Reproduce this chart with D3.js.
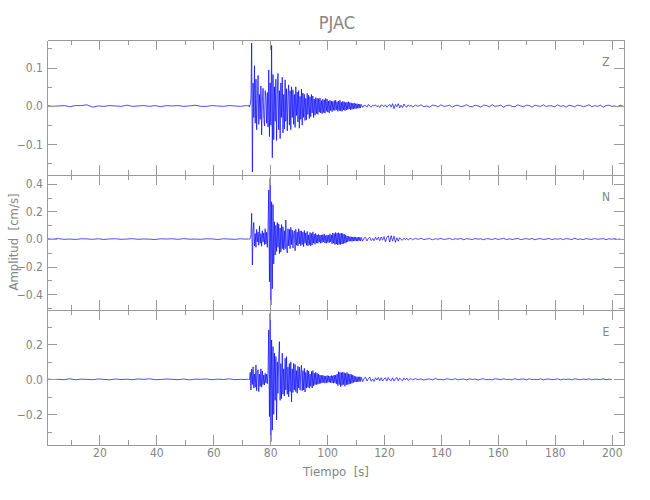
<!DOCTYPE html>
<html><head><meta charset="utf-8">
<script src="https://cdn.jsdelivr.net/npm/d3@7"></script>
<style>
body{margin:0;background:#fff}
svg text{font-family:"Liberation Sans Narrow","DejaVu Sans Condensed","Liberation Sans",sans-serif;fill:#858585}
.ax path,.ax line{stroke:#9a9a9a;stroke-width:1;shape-rendering:crispEdges}
</style>
</head><body><svg id="c" width="650" height="500"></svg>
<script>
// ---------------- data ----------------
const stationName = "PJAC";
const componentNames = ["Z", "N", "E"];
const xLabel = "Tiempo  [s]";
const yLabel = "Amplitud  [cm/s]";
const timeRange = [1.6, 204.3];
const xMajorTicks = [20, 40, 60, 80, 100, 120, 140, 160, 180, 200];
const xMinorTicks = [10, 30, 50, 70, 90, 110, 130, 150, 170, 190];

const zRange = [-0.180, 0.172];
const nRange = [-0.514, 0.464];
const eRange = [-0.375, 0.396];
const zMajorTicks = [-0.1, 0.0, 0.1];
const zMinorTicks = [-0.15, -0.05, 0.05, 0.15];
const nMajorTicks = [-0.4, -0.2, 0.0, 0.2, 0.4];
const nMinorTicks = [-0.5, -0.3, -0.1, 0.1, 0.3];
const eMajorTicks = [-0.2, 0.0, 0.2];
const eMinorTicks = [-0.3, -0.1, 0.1, 0.3];

// sample times of the read-off segments (s)
const preStart = 1.6, preStep = 2;
const mainStart = 72.0, mainStep = 0.25;
const coda1Start = 112.5, coda1Step = 0.5;
const coda2Start = 131.0, coda2Step = 1;

// ---- Z component (cm/s) ----
const zPre = [0.001,-0.001,0.000,0.001,-0.002,0.001,0.001,0.003,-0.003,0.000,
  -0.001,0.001,0.000,-0.001,0.002,-0.001,0.000,0.001,-0.001,0.001,
  -0.002,0.001,0.000,0.001,-0.001,0.000,0.002,-0.001,-0.001,0.001,
  0.000,-0.001,0.001,0.000,-0.001,0.001];
const zMain = [
  0.001,-0.001,0.002,-0.002,0.003,0.020,0.164,-0.172,0.060,-0.030,0.105,-0.045,0.070,-0.062,0.020,0.080,-0.048,0.030,-0.035,0.052,
  -0.075,0.010,0.046,-0.030,-0.052,0.040,0.020,-0.045,0.035,-0.055,0.094,-0.080,0.060,-0.050,0.158,-0.135,0.082,-0.088,0.050,-0.040,
  0.070,-0.090,0.030,0.085,-0.062,0.040,-0.085,0.060,-0.030,0.075,-0.070,0.030,-0.060,0.068,-0.040,0.045,-0.065,0.025,0.055,-0.050,
  0.040,-0.062,0.050,-0.030,0.042,-0.048,0.030,-0.056,0.050,-0.025,0.036,-0.042,0.040,-0.058,0.025,-0.035,0.044,-0.050,0.034,-0.030,
  0.030,-0.038,0.020,-0.036,0.033,-0.022,0.028,-0.033,0.024,-0.028,0.030,-0.018,0.026,-0.030,0.018,-0.024,0.022,-0.020,0.020,-0.022,
  0.019,-0.016,0.021,-0.018,0.014,-0.020,0.018,-0.017,0.016,-0.019,0.020,-0.014,0.018,-0.016,0.013,-0.018,0.015,-0.012,0.013,-0.015,
  0.012,-0.011,0.014,-0.012,0.015,-0.010,0.011,-0.014,0.013,-0.012,0.015,-0.013,0.010,-0.014,0.012,-0.010,0.011,-0.012,0.009,-0.011,
  0.010,-0.009,0.011,-0.008,0.009,-0.010,0.008,-0.009,0.007,-0.008,0.008,-0.007,0.006,-0.007,0.006,-0.006,0.005,-0.006,0.005,-0.005,
  0.004];
const zCoda1 = [-0.004,0.002,0.001,-0.003,0.004,-0.001,-0.003,0.002,0.000,0.003,
  -0.002,0.001,-0.004,0.003,0.001,-0.002,0.003,-0.003,0.000,0.004,
  -0.003,0.006,-0.007,0.004,-0.002,0.006,-0.005,0.002,-0.004,0.005,
  -0.001,-0.003,0.003,-0.001,0.002,-0.003];
const zCoda2 = [0.002,-0.001,0.003,-0.002,0.000,-0.003,0.002,0.001,-0.002,0.003,
  -0.001,0.000,0.002,-0.003,0.001,0.002,-0.002,0.000,0.003,-0.001,
  -0.002,0.002,0.000,-0.003,0.002,0.001,-0.002,0.003,-0.001,0.000,
  0.002,-0.003,0.001,0.002,-0.001,-0.002,0.003,0.000,-0.002,0.002,
  0.001,-0.003,0.002,0.000,-0.001,0.003,-0.002,0.001,0.000,-0.002,
  0.003,-0.001,0.001,-0.003,0.002,0.000,-0.002,0.002,0.001,-0.002,
  0.000,0.003,-0.002,0.001,-0.001,0.002,-0.003,0.001,0.002,-0.001,
  0.000,-0.002,0.002,-0.001];

// ---- N component ----
const nPre = [0.002,-0.001,0.003,-0.002,0.000,-0.003,0.002,0.001,-0.002,0.002,
  -0.003,0.001,0.002,-0.002,0.000,0.003,-0.002,0.001,-0.001,-0.003,
  0.002,0.000,0.002,-0.002,0.003,-0.001,0.000,-0.002,0.002,0.001,
  -0.003,0.002,0.000,-0.002,0.002,-0.001];
const nMain = [
  0.002,-0.003,0.003,-0.002,0.008,0.030,0.186,-0.188,0.060,0.120,-0.050,0.040,-0.060,0.070,-0.020,0.050,-0.045,0.095,-0.030,0.040,
  -0.052,0.060,-0.020,0.045,-0.040,0.075,-0.035,0.050,-0.060,0.080,0.355,-0.310,0.440,-0.478,0.270,-0.360,0.250,-0.180,0.125,-0.116,
  0.100,-0.090,0.120,-0.060,0.110,-0.105,0.080,-0.095,0.105,-0.070,0.090,-0.080,0.060,-0.070,0.138,-0.060,-0.100,0.075,-0.050,0.070,
  -0.070,0.085,-0.040,0.065,-0.065,0.040,0.060,-0.085,0.070,-0.045,0.050,-0.050,0.075,-0.035,0.060,-0.048,0.058,-0.040,0.050,-0.055,
  0.062,-0.030,0.045,-0.045,0.055,-0.050,0.030,-0.042,0.048,-0.050,0.040,-0.042,0.052,-0.030,0.035,-0.038,0.040,-0.028,0.030,-0.031,
  0.034,-0.022,0.028,-0.030,0.030,-0.026,0.032,-0.020,0.036,-0.028,0.025,-0.031,0.030,-0.024,0.028,-0.026,0.038,-0.022,0.030,-0.034,
  0.044,-0.030,0.040,-0.040,0.048,-0.036,0.042,-0.043,0.046,-0.038,0.040,-0.040,0.044,-0.036,0.040,-0.033,0.036,-0.030,0.030,-0.025,
  0.022,-0.020,0.020,-0.016,0.018,-0.015,0.016,-0.018,0.015,-0.014,0.016,-0.013,0.015,-0.014,0.012,-0.015,0.014,-0.012,0.013,-0.014,
  0.012];
const nCoda1 = [-0.015,0.008,0.012,-0.014,0.005,0.013,-0.011,0.004,-0.012,0.013,
  -0.006,0.014,-0.012,0.015,-0.008,0.018,-0.020,0.012,0.024,-0.022,
  0.025,-0.015,0.021,-0.024,0.010,-0.015,0.010,-0.004,-0.008,0.007,
  -0.003,0.006,-0.007,0.002,0.005,-0.005];
const nCoda2 = [0.004,-0.002,0.005,-0.004,0.001,0.003,-0.005,0.002,-0.001,0.004,
  -0.003,0.000,0.005,-0.004,0.002,-0.001,0.004,-0.005,0.003,0.000,
  -0.004,0.004,-0.001,0.002,-0.005,0.003,0.001,-0.003,0.004,-0.002,
  0.000,0.005,-0.004,0.002,-0.003,0.001,0.004,-0.004,0.000,0.003,
  -0.002,0.004,-0.005,0.001,0.003,-0.003,0.000,0.004,-0.004,0.002,
  -0.001,0.003,-0.004,0.004,0.000,-0.003,0.005,-0.002,0.001,-0.004,
  0.003,0.000,-0.003,0.004,-0.002,0.001,0.003,-0.004,0.002,-0.001,
  0.003,-0.003,0.001];

// ---- E component ----
const ePre = [0.002,-0.001,0.000,-0.002,0.003,-0.002,0.001,0.000,-0.002,0.002,
  0.000,-0.003,0.002,-0.001,0.001,-0.002,0.002,0.000,0.003,-0.002,
  -0.001,0.002,0.000,-0.002,0.002,-0.003,0.001,0.000,0.002,-0.002,
  0.001,-0.001,0.003,-0.002,0.000,-0.001];
const eMain = [
  0.001,-0.002,0.002,-0.001,0.040,-0.061,0.058,-0.030,0.072,-0.050,0.030,-0.045,0.082,-0.065,0.040,0.055,-0.070,0.030,-0.040,0.060,
  -0.045,0.048,-0.030,0.025,-0.032,0.034,-0.020,0.030,-0.025,0.040,0.282,-0.213,0.377,-0.356,0.225,-0.290,0.187,-0.200,0.150,-0.120,
  0.130,-0.232,0.100,-0.080,0.120,0.215,-0.120,0.090,-0.110,0.149,-0.085,0.060,-0.095,0.120,-0.060,0.130,-0.085,0.070,-0.100,0.090,
  -0.070,0.100,-0.128,0.060,-0.075,0.091,-0.060,0.085,-0.070,0.050,-0.080,0.075,-0.050,0.070,-0.062,0.040,0.080,-0.065,0.050,-0.060,
  0.063,-0.072,0.040,-0.050,0.053,-0.045,0.048,-0.051,0.030,-0.040,0.045,-0.050,0.050,-0.038,0.035,-0.030,0.040,-0.030,0.035,-0.028,
  0.030,-0.025,0.025,-0.023,0.022,-0.020,0.024,-0.018,0.020,-0.022,0.018,-0.020,0.022,-0.018,0.020,-0.016,0.018,-0.020,0.022,-0.019,
  0.020,-0.022,0.025,-0.020,0.024,-0.026,0.030,-0.036,0.044,-0.030,0.040,-0.042,0.038,-0.035,0.042,-0.030,0.038,-0.040,0.035,-0.032,
  0.040,-0.030,0.032,-0.028,0.030,-0.025,0.028,-0.022,0.025,-0.018,0.020,-0.016,0.016,-0.015,0.015,-0.014,0.014,-0.013,0.015,-0.012,
  0.013];
const eCoda1 = [-0.014,0.006,0.012,-0.010,0.004,0.013,-0.011,0.002,-0.012,0.009,
  -0.004,0.011,-0.008,0.009,-0.010,0.003,0.008,-0.009,0.010,-0.004,
  -0.008,0.009,-0.010,0.004,0.010,-0.008,0.007,-0.002,-0.009,0.008,
  -0.003,0.007,-0.006,0.001,0.005,-0.004];
const eCoda2 = [0.004,-0.002,0.003,-0.004,0.001,0.002,-0.003,0.004,-0.001,0.000,
  -0.003,0.003,0.001,-0.002,0.004,-0.003,0.000,0.002,-0.003,0.003,
  -0.001,0.002,-0.004,0.001,0.003,-0.002,0.000,-0.003,0.003,0.001,
  -0.002,0.003,-0.001,0.000,-0.003,0.004,-0.002,0.001,0.002,-0.003,
  0.003,-0.001,0.000,-0.002,0.003,-0.003,0.001,0.002,-0.002,0.000,
  0.003,-0.003,0.001,-0.001,0.002,-0.003,0.003,0.000,-0.002,0.002,
  -0.001,0.003,-0.003,0.001,0.000,-0.002,0.003,-0.002,0.001,-0.001];

// ---------------- drawing ----------------
const svg = d3.select("#c");
const plotLeft = 47, plotRight = 624, panelTop = 40, panelH = 135;
const x = d3.scaleLinear().domain(timeRange).range([plotLeft, plotRight]);

const comps = [
  {name: componentNames[0], range: zRange, major: zMajorTicks, minor: zMinorTicks, segs: [zPre, zMain, zCoda1, zCoda2]},
  {name: componentNames[1], range: nRange, major: nMajorTicks, minor: nMinorTicks, segs: [nPre, nMain, nCoda1, nCoda2]},
  {name: componentNames[2], range: eRange, major: eMajorTicks, minor: eMinorTicks, segs: [ePre, eMain, eCoda1, eCoda2]}
];
const segTiming = [[preStart, preStep], [mainStart, mainStep], [coda1Start, coda1Step], [coda2Start, coda2Step]];

const fmt = d3.format(".1f");

comps.forEach((c, i) => {
  const top = panelTop + i * panelH, bottom = top + panelH;
  const y = d3.scaleLinear().domain(c.range).range([bottom, top]);

  const pts = [];
  c.segs.forEach((vals, s) => {
    const [t0, dt] = segTiming[s];
    vals.forEach((v, k) => pts.push([t0 + k * dt, v]));
  });

  const clipId = "clip" + i;
  svg.append("clipPath").attr("id", clipId).append("rect")
    .attr("x", plotLeft).attr("y", top).attr("width", plotRight - plotLeft).attr("height", panelH);

  svg.append("path").datum(pts)
    .attr("clip-path", `url(#${clipId})`)
    .attr("fill", "none").attr("stroke", "#0000ff").attr("stroke-width", 0.7)
    .attr("d", d3.line().x(d => x(d[0])).y(d => y(d[1])));

  // left axis
  svg.append("g").attr("class", "ax").attr("transform", `translate(${plotLeft},0)`)
    .call(d3.axisLeft(y).tickValues(c.major).tickFormat(fmt).tickSizeInner(-10).tickSizeOuter(0).tickPadding(4))
    .call(g => g.selectAll("text").attr("font-size", 12));
  svg.append("g").attr("class", "ax").attr("transform", `translate(${plotLeft},0)`)
    .call(d3.axisLeft(y).tickValues(c.minor).tickFormat("").tickSizeInner(-5).tickSizeOuter(0));
  // right axis
  svg.append("g").attr("class", "ax").attr("transform", `translate(${plotRight},0)`)
    .call(d3.axisRight(y).tickValues(c.major).tickFormat("").tickSizeInner(-10).tickSizeOuter(0));
  svg.append("g").attr("class", "ax").attr("transform", `translate(${plotRight},0)`)
    .call(d3.axisRight(y).tickValues(c.minor).tickFormat("").tickSizeInner(-5).tickSizeOuter(0));
  // top axis
  svg.append("g").attr("class", "ax").attr("transform", `translate(0,${top})`)
    .call(d3.axisTop(x).tickValues(xMajorTicks).tickFormat("").tickSizeInner(-10).tickSizeOuter(0));
  svg.append("g").attr("class", "ax").attr("transform", `translate(0,${top})`)
    .call(d3.axisTop(x).tickValues(xMinorTicks).tickFormat("").tickSizeInner(-5).tickSizeOuter(0));
  // bottom axis
  const isLast = i === comps.length - 1;
  svg.append("g").attr("class", "ax").attr("transform", `translate(0,${bottom})`)
    .call(d3.axisBottom(x).tickValues(xMajorTicks).tickFormat(isLast ? d3.format("d") : "").tickSizeInner(-10).tickSizeOuter(0).tickPadding(3))
    .call(g => g.selectAll("text").attr("font-size", 12));
  svg.append("g").attr("class", "ax").attr("transform", `translate(0,${bottom})`)
    .call(d3.axisBottom(x).tickValues(xMinorTicks).tickFormat("").tickSizeInner(-5).tickSizeOuter(0));

  svg.append("text").attr("x", 606).attr("y", top + 26)
    .attr("text-anchor", "middle").attr("font-size", 12).text(c.name);
});

svg.append("text").attr("x", 337).attr("y", 29).attr("text-anchor", "middle")
  .attr("font-size", 18).text(stationName);
svg.append("text").attr("x", 336).attr("y", 476).attr("text-anchor", "middle")
  .attr("font-size", 13).style("white-space", "pre").text(xLabel);
svg.append("text").attr("transform", "translate(18,242) rotate(-90)").attr("text-anchor", "middle")
  .attr("font-size", 13).style("white-space", "pre").text(yLabel);
</script>
</body></html>
